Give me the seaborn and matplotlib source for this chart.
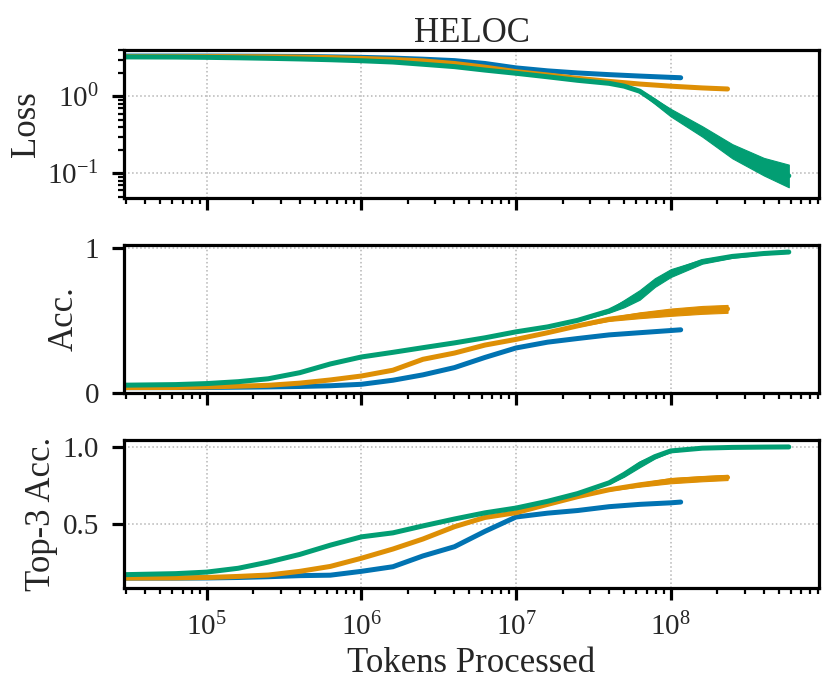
import matplotlib
matplotlib.use("Agg")
import matplotlib.pyplot as plt
import matplotlib.ticker as mticker
import seaborn as sns

# runs (colours follow seaborn "colorblind": blue, orange, green)
RUN_NAMES = ["small", "medium", "large"]

# tokens processed for every logged point of each run
small_tokens = [2.5e4, 6.3e4, 1.0e5, 1.6e5, 2.5e5, 4.0e5, 6.3e5, 1.0e6, 1.6e6, 2.5e6,
                4.0e6, 6.3e6, 1.0e7, 1.6e7, 2.5e7, 4.0e7, 6.3e7, 1.0e8, 1.16e8]
medium_tokens = [2.5e4, 6.3e4, 1.0e5, 1.6e5, 2.5e5, 4.0e5, 6.3e5, 1.0e6, 1.6e6, 2.5e6,
                 4.0e6, 6.3e6, 1.0e7, 1.6e7, 2.5e7, 4.0e7, 6.3e7, 1.0e8, 1.6e8, 2.33e8]
large_tokens = [2.5e4, 6.3e4, 1.0e5, 1.6e5, 2.5e5, 4.0e5, 6.3e5, 1.0e6, 1.6e6, 2.5e6,
                4.0e6, 6.3e6, 1.0e7, 1.6e7, 2.5e7, 4.0e7, 5.0e7, 6.3e7, 7.9e7, 1.0e8,
                1.6e8, 2.5e8, 4.0e8, 5.8e8]

# loss
small_loss = [3.35, 3.35, 3.35, 3.34, 3.33, 3.31, 3.27, 3.22, 3.15, 3.05,
              2.92, 2.68, 2.35, 2.15, 2.02, 1.92, 1.84, 1.77, 1.75]
medium_loss = [3.30, 3.30, 3.30, 3.29, 3.28, 3.25, 3.20, 3.12, 3.02, 2.90,
               2.68, 2.40, 2.10, 1.90, 1.72, 1.57, 1.45, 1.36, 1.29, 1.25]
large_loss = [3.27, 3.25, 3.22, 3.18, 3.13, 3.07, 3.00, 2.91, 2.80, 2.62,
              2.44, 2.20, 2.00, 1.80, 1.62, 1.48, 1.36, 1.17, 0.87, 0.62,
              0.35, 0.195, 0.122, 0.093]

# accuracy
small_acc = [0.037, 0.037, 0.038, 0.040, 0.042, 0.045, 0.050, 0.060, 0.088, 0.125,
             0.175, 0.245, 0.310, 0.350, 0.375, 0.400, 0.415, 0.430, 0.435]
medium_acc = [0.037, 0.038, 0.042, 0.047, 0.053, 0.068, 0.090, 0.117, 0.157, 0.232,
              0.275, 0.330, 0.369, 0.415, 0.462, 0.508, 0.535, 0.556, 0.572, 0.579]
large_acc = [0.053, 0.058, 0.065, 0.078, 0.098, 0.140, 0.200, 0.248, 0.280, 0.312,
             0.345, 0.380, 0.421, 0.455, 0.500, 0.565, 0.615, 0.675, 0.760, 0.825,
             0.905, 0.940, 0.960, 0.970]

# top-3 accuracy
small_top3 = [0.146, 0.146, 0.147, 0.150, 0.155, 0.162, 0.165, 0.190, 0.220, 0.290,
              0.350, 0.450, 0.543, 0.568, 0.585, 0.610, 0.625, 0.635, 0.640]
medium_top3 = [0.146, 0.147, 0.150, 0.157, 0.166, 0.190, 0.222, 0.275, 0.335, 0.400,
               0.480, 0.540, 0.571, 0.625, 0.675, 0.720, 0.752, 0.779, 0.792, 0.800]
large_top3 = [0.167, 0.175, 0.185, 0.210, 0.250, 0.300, 0.360, 0.414, 0.440, 0.485,
              0.530, 0.570, 0.601, 0.645, 0.695, 0.765, 0.820, 0.885, 0.935, 0.972,
              0.990, 0.995, 0.997, 0.998]

# step-to-step noise envelopes (late training, where the curves get wide)
medium_loss_band_x = [4.0e7, 6.3e7, 1.0e8, 1.6e8, 2.33e8]
medium_loss_lo = [1.57, 1.43, 1.33, 1.26, 1.22]
medium_loss_hi = [1.57, 1.47, 1.39, 1.32, 1.28]
large_loss_band_x = [4.0e7, 5.0e7, 6.3e7, 7.9e7, 1.0e8, 1.6e8, 2.5e8, 4.0e8, 5.8e8]
large_loss_lo = [1.48, 1.35, 1.13, 0.80, 0.55, 0.30, 0.157, 0.094, 0.066]
large_loss_hi = [1.48, 1.37, 1.23, 0.93, 0.69, 0.41, 0.240, 0.159, 0.130]

medium_acc_band_x = [2.5e7, 4.0e7, 6.3e7, 1.0e8, 1.6e8, 2.33e8]
medium_acc_lo = [0.457, 0.496, 0.515, 0.531, 0.545, 0.552]
medium_acc_hi = [0.467, 0.520, 0.555, 0.581, 0.599, 0.606]
large_acc_band_x = [2.5e7, 4.0e7, 5.0e7, 6.3e7, 7.9e7, 1.0e8, 1.6e8, 2.5e8, 4.0e8, 5.8e8]
large_acc_lo = [0.495, 0.553, 0.590, 0.642, 0.730, 0.798, 0.890, 0.930, 0.954, 0.965]
large_acc_hi = [0.505, 0.577, 0.640, 0.708, 0.790, 0.852, 0.920, 0.950, 0.966, 0.975]

medium_top3_band_x = [4.0e7, 6.3e7, 1.0e8, 1.6e8, 2.33e8]
medium_top3_lo = [0.715, 0.740, 0.762, 0.775, 0.783]
medium_top3_hi = [0.725, 0.764, 0.796, 0.809, 0.817]
large_top3_band_x = [4.0e7, 5.0e7, 6.3e7, 7.9e7, 1.0e8, 1.6e8]
large_top3_lo = [0.757, 0.805, 0.866, 0.923, 0.966, 0.988]
large_top3_hi = [0.773, 0.835, 0.904, 0.947, 0.978, 0.992]


def main():
    sns.set_style("ticks")
    plt.rcParams["font.family"] = ["Liberation Serif", "DejaVu Serif"]
    plt.rcParams["mathtext.fontset"] = "stix"
    plt.rcParams["axes.linewidth"] = 2.3
    plt.rcParams["axes.edgecolor"] = "black"

    colors = sns.color_palette("colorblind", 3)

    fig, axes = plt.subplots(3, 1, figsize=(8.29, 6.96), dpi=100, sharex=True)
    fig.subplots_adjust(left=0.1496, right=0.988, top=0.928, bottom=0.155, hspace=0.32)

    tokens = [small_tokens, medium_tokens, large_tokens]
    metrics = [
        ("Loss", [small_loss, medium_loss, large_loss],
         [None, (medium_loss_band_x, medium_loss_lo, medium_loss_hi),
          (large_loss_band_x, large_loss_lo, large_loss_hi)]),
        ("Acc.", [small_acc, medium_acc, large_acc],
         [None, (medium_acc_band_x, medium_acc_lo, medium_acc_hi),
          (large_acc_band_x, large_acc_lo, large_acc_hi)]),
        ("Top-3 Acc.", [small_top3, medium_top3, large_top3],
         [None, (medium_top3_band_x, medium_top3_lo, medium_top3_hi),
          (large_top3_band_x, large_top3_lo, large_top3_hi)]),
    ]

    for ax, (label, series, bands) in zip(axes, metrics):
        for i, name in enumerate(RUN_NAMES):
            sns.lineplot(x=tokens[i], y=series[i], ax=ax, color=colors[i],
                         lw=3.6, estimator=None, solid_capstyle="round")
            if bands[i] is not None:
                bx, lo, hi = bands[i]
                ax.fill_between(bx, lo, hi, color=colors[i], lw=0.8,
                                edgecolor=colors[i])
        ax.set_xscale("log")
        ax.set_ylabel(label, fontsize=25, labelpad=3)
        ax.grid(True, which="major", ls=":", color="#b5b5b5", lw=1.1)
        ax.tick_params(which="major", length=8.5, width=2.3, labelsize=21,
                       direction="out", color="black", pad=9.5)
        ax.tick_params(which="minor", length=4, width=1.6, color="black")
        for side in ["top", "right", "left", "bottom"]:
            ax.spines[side].set_visible(True)
            ax.spines[side].set_linewidth(2.3)

    # loss panel: log y
    axes[0].set_yscale("log")
    axes[0].set_ylim(0.048, 4.0)
    axes[0].yaxis.set_major_locator(mticker.LogLocator(base=10))
    axes[0].yaxis.set_minor_formatter(mticker.NullFormatter())
    axes[0].set_title("HELOC", fontsize=25, pad=6)

    axes[1].set_ylim(0.0, 1.017)
    axes[1].set_yticks([0, 1])
    axes[1].set_yticklabels(["0", "1"])

    axes[2].set_ylim(0.081, 1.041)
    axes[2].set_yticks([0.5, 1.0])
    axes[2].set_yticklabels(["0.5", "1.0"])

    axes[2].set_xlim(2.92e4, 9.1e8)
    axes[2].xaxis.set_major_locator(mticker.LogLocator(base=10))
    axes[2].xaxis.set_minor_locator(mticker.LogLocator(base=10, subs=range(2, 10)))
    axes[2].xaxis.set_minor_formatter(mticker.NullFormatter())
    axes[2].set_xlabel("Tokens Processed", fontsize=25, labelpad=4)

    fig.savefig("out.png", dpi=100)


if __name__ == "__main__":
    main()
